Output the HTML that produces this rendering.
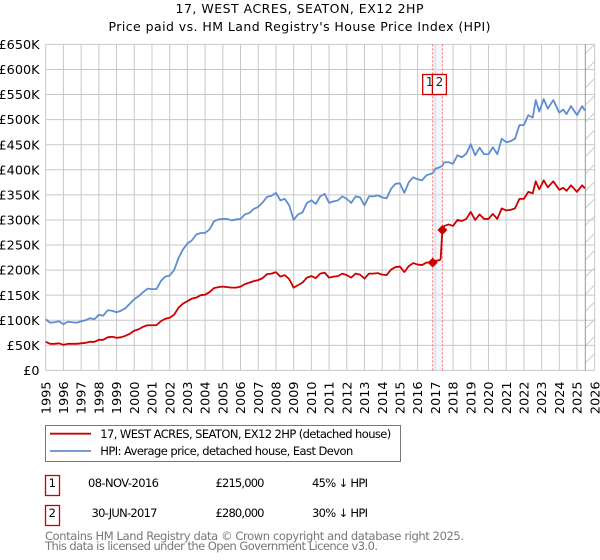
<!DOCTYPE html>
<html>
<head>
<meta charset="utf-8">
<title>17, WEST ACRES, SEATON, EX12 2HP</title>
<style>
html,body{margin:0;padding:0;background:#fff;width:600px;height:560px;overflow:hidden}
svg{display:block;font-family:"DejaVu Sans",sans-serif}
</style>
</head>
<body>
<svg id="chart" width="600" height="560" viewBox="0 0 600 560" xmlns="http://www.w3.org/2000/svg">
  <text x="299.5" y="13" text-anchor="middle" font-size="12.5" textLength="248" fill="#000">17, WEST ACRES, SEATON, EX12 2HP</text>
  <text x="299.5" y="31" text-anchor="middle" font-size="12.5" textLength="382" fill="#000">Price paid vs. HM Land Registry's House Price Index (HPI)</text>
  <g id="grid"></g>
  <g id="forecast"></g>
  <g id="band"></g>
  <g id="lines"></g>
  <g id="markers"></g>
  <g id="xlabels"></g>
  <g id="ylabels"></g>

  <g>
    <rect x="45.5" y="425.5" width="355" height="36" fill="#fff" stroke="#777" stroke-width="1"/>
    <line x1="50" x2="91" y1="433.7" y2="433.7" stroke="#cc0000" stroke-width="1.8"/>
    <text x="100.3" y="438" font-size="11.5" textLength="291" fill="#000">17, WEST ACRES, SEATON, EX12 2HP (detached house)</text>
    <line x1="50" x2="91" y1="451" y2="451" stroke="#5f8dd3" stroke-width="1.8"/>
    <text x="100.3" y="455" font-size="11.5" textLength="253" fill="#000">HPI: Average price, detached house, East Devon</text>
  </g>

  <g>
    <rect x="45.5" y="475.5" width="14" height="20" fill="#fff" stroke="#cc0000" stroke-width="1.3"/>
    <text x="52.3" y="487" text-anchor="middle" font-size="11.5">1</text>
    <text x="123.5" y="487" text-anchor="middle" font-size="11.5" textLength="71">08-NOV-2016</text>
    <text x="240" y="487" text-anchor="middle" font-size="11.5" textLength="49">£215,000</text>
    <text x="340" y="487" text-anchor="middle" font-size="11.5" textLength="56">45% ↓ HPI</text>
  </g>
  <g>
    <rect x="45.5" y="505.5" width="14" height="20" fill="#fff" stroke="#cc0000" stroke-width="1.3"/>
    <text x="52.3" y="517" text-anchor="middle" font-size="11.5">2</text>
    <text x="124.5" y="517" text-anchor="middle" font-size="11.5" textLength="66">30-JUN-2017</text>
    <text x="240" y="517" text-anchor="middle" font-size="11.5" textLength="49">£280,000</text>
    <text x="340" y="517" text-anchor="middle" font-size="11.5" textLength="56">30% ↓ HPI</text>
  </g>

  <text x="45" y="540" font-size="11.5" fill="#777" textLength="419">Contains HM Land Registry data © Crown copyright and database right 2025.</text>
  <text x="45" y="550" font-size="11.5" fill="#777" textLength="333">This data is licensed under the Open Government Licence v3.0.</text>
</svg>
<script>
const yearTicks = [1995,1996,1997,1998,1999,2000,2001,2002,2003,2004,2005,2006,2007,2008,2009,2010,2011,2012,2013,2014,2015,2016,2017,2018,2019,2020,2021,2022,2023,2024,2025,2026];
const priceTicks = [0,50,100,150,200,250,300,350,400,450,500,550,600,650];
const priceTickLabels = ['£0','£50K','£100K','£150K','£200K','£250K','£300K','£350K','£400K','£450K','£500K','£550K','£600K','£650K'];

const dates = [1995,1995.25,1995.5,1995.75,1996,1996.25,1996.5,1996.75,1997,1997.25,1997.5,1997.75,1998,1998.25,1998.5,1998.75,1999,1999.25,1999.5,1999.75,2000,2000.25,2000.5,2000.75,2001,2001.25,2001.5,2001.75,2002,2002.25,2002.5,2002.75,2003,2003.25,2003.5,2003.75,2004,2004.25,2004.5,2004.75,2005,2005.25,2005.5,2005.75,2006,2006.25,2006.5,2006.75,2007,2007.25,2007.5,2007.75,2008,2008.25,2008.5,2008.75,2009,2009.25,2009.5,2009.75,2010,2010.25,2010.5,2010.75,2011,2011.25,2011.5,2011.75,2012,2012.25,2012.5,2012.75,2013,2013.25,2013.5,2013.75,2014,2014.25,2014.5,2014.75,2015,2015.25,2015.5,2015.75,2016,2016.25,2016.5,2016.85,2017,2017.25,2017.3,2017.4,2017.5,2017.75,2018,2018.25,2018.5,2018.75,2019,2019.25,2019.5,2019.75,2020,2020.25,2020.5,2020.75,2021,2021.25,2021.5,2021.75,2022,2022.25,2022.5,2022.67,2022.87,2023.12,2023.35,2023.66,2024,2024.22,2024.41,2024.66,2025,2025.29,2025.45];
const hpiValues = [102,95,96,98,92,97,96,95,98,100,104,102,111,109,120,119,116,119,124,133,142,148,156,163,162,162,178,187,189,200,224,241,253,259,271,274,274,281,297,301,302,302,299,301,302,311,314,322,326,335,346,348,354,339,342,329,300,311,315,334,339,332,347,352,334,337,339,347,342,334,347,345,329,347,347,349,345,343,362,372,373,354,375,385,381,379,389,393,402,405,406,408,415,415,412,429,425,432,451,429,444,431,431,445,431,462,455,457,462,489,489,509,504,539,516,541,522,539,514,520,511,527,509,527,518];
const priceValues = [57,53,53,54,51,53,53,53,54,55,57,57,61,61,66,67,65,66,69,73,79,82,87,90,90,90,98,103,105,111,125,133,138,143,145,150,151,156,164,166,167,166,165,165,167,172,175,178,180,184,192,193,196,187,190,182,165,170,175,185,188,184,193,195,185,187,188,193,190,185,193,191,183,193,193,194,191,190,201,206,207,196,208,214,211,210,215,215,218,220,222,280,288,291,288,300,298,302,316,300,311,302,302,312,302,323,319,320,323,342,342,356,353,377,361,379,365,377,360,364,358,369,356,369,363];

const saleNumbers = ['1','2'];
const saleDates = [2016.85,2017.4];
const salePrices = [215,280];
const forecastStart = 2025.47;

const NS = 'http://www.w3.org/2000/svg';
function xScale(year){ return 45.7 + (year - 1995) * 17.71; }
function yScale(k){ return 370.4 - k * 0.50154; }
function make(parent, tag, attrs){
  const el = document.createElementNS(NS, tag);
  for (const k in attrs) el.setAttribute(k, attrs[k]);
  document.getElementById(parent).appendChild(el);
  return el;
}
const plotRight = xScale(2026), plotTop = yScale(650), plotBottom = yScale(0);

yearTicks.forEach(function(y){
  const l = make('grid','line',{x1:xScale(y),x2:xScale(y),y1:plotTop,y2:plotBottom,stroke:'#c8c8c8','stroke-width':1});
  
  
  const t = make('xlabels','text',{transform:'translate('+(xScale(y)+4.6)+',381.5) rotate(-90)','text-anchor':'end','font-size':12.8,fill:'#000'});
  t.textContent = y;
  
  
});
priceTicks.forEach(function(v,i){
  const l = make('grid','line',{x1:45.7,x2:plotRight,y1:yScale(v),y2:yScale(v),stroke:'#c8c8c8','stroke-width':1});
  
  
  const t = make('ylabels','text',{x:39.5,y:yScale(v)+4.6,'text-anchor':'end','font-size':12.8,fill:'#000'});
  t.textContent = priceTickLabels[i];
  
  
});

const fx = xScale(forecastStart);
for (let k = 0; k < 19; k++){
  const yb = plotTop + 9 + k * 17.2;
  const h = make('forecast','line',{x1:fx,y1:Math.min(yb,plotBottom),x2:plotRight,y2:Math.max(yb-(plotRight-fx),plotTop),stroke:'#cccccc','stroke-width':1});
  
  
}
const fl = make('forecast','line',{x1:fx,x2:fx,y1:plotTop,y2:plotBottom,stroke:'#999999','stroke-width':1});



const bx0 = xScale(saleDates[0]), bx1 = xScale(saleDates[1]);
const br = make('band','rect',{x:bx0,y:plotTop,width:bx1-bx0,height:plotBottom-plotTop,fill:'#dfe8f8','fill-opacity':0.45});


saleDates.forEach(function(d){
  const l = make('band','line',{x1:xScale(d),x2:xScale(d),y1:plotTop,y2:plotBottom,stroke:'#ff6666','stroke-width':1,'stroke-dasharray':'2 2'});
  
  
});

function pathFor(values){
  return values.map(function(v,i){ return (i?'L':'M') + xScale(dates[i]).toFixed(2) + ' ' + yScale(v).toFixed(2); }).join('');
}
const hpiLine = make('lines','path',{d:pathFor(hpiValues),fill:'none',stroke:'#5f8dd3','stroke-width':1.8,'stroke-linejoin':'round'});


const priceLine = make('lines','path',{d:pathFor(priceValues),fill:'none',stroke:'#cc0000','stroke-width':1.8,'stroke-linejoin':'round'});



saleDates.forEach(function(d,i){
  const cx = xScale(d), cy = yScale(salePrices[i]);
  const m = make('markers','path',{d:'M'+cx+' '+(cy-5)+'L'+(cx+5)+' '+cy+'L'+cx+' '+(cy+5)+'L'+(cx-5)+' '+cy+'Z',fill:'#cc0000'});
  
  
  const left = cx - 10;
  const b = make('markers','rect',{x:left,y:74.5,width:14,height:20,fill:'#fff',stroke:'#cc0000','stroke-width':1.3});
  
  
  const t = make('markers','text',{x:left+7,y:86,'text-anchor':'middle','font-size':12,fill:'#222'});
  t.textContent = saleNumbers[i];
  
  
});
</script>
</body>
</html>
